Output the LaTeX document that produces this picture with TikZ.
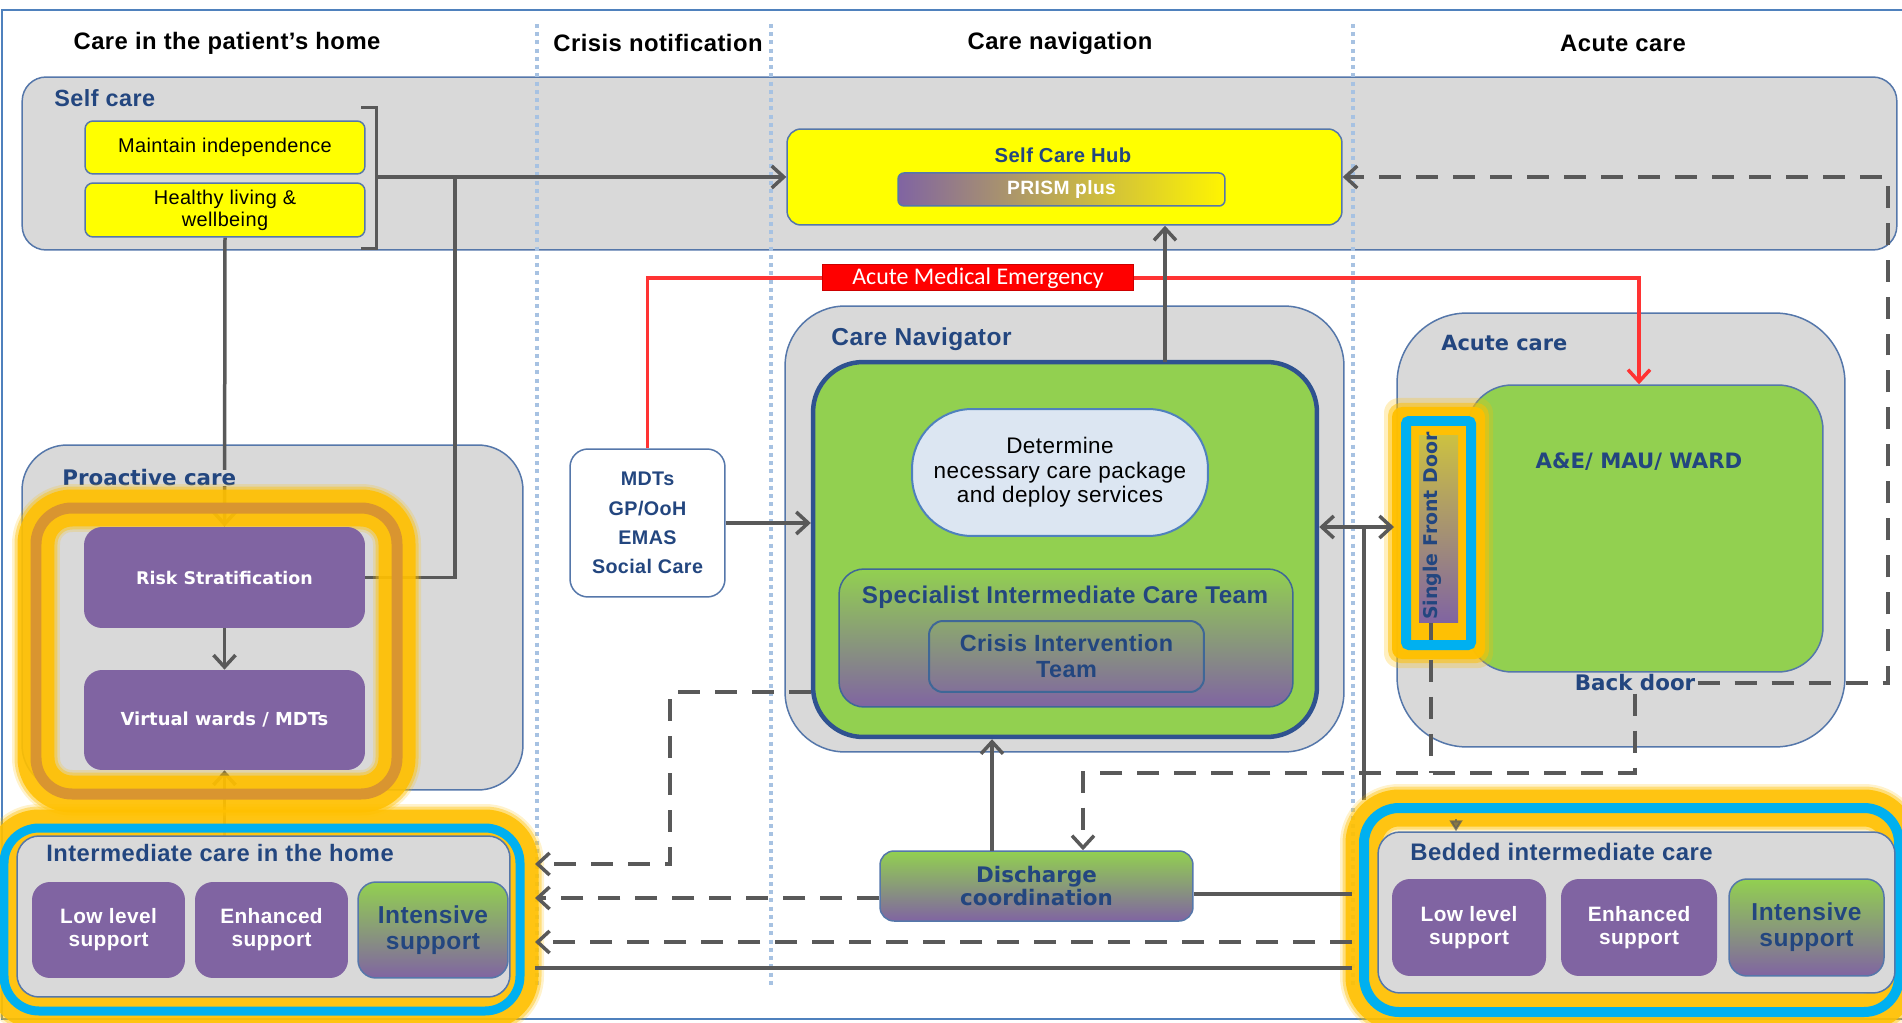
\documentclass[tikz,border=0pt]{standalone}
\usepackage{fontspec}
\setmainfont{Liberation Sans}[LetterSpace=2]
\newfontfamily\vfont{DejaVu Sans}
\newfontfamily\cfont{Carlito}
\usetikzlibrary{arrows.meta}
\pgfdeclarelayer{back}
\pgfdeclarelayer{glow}
\pgfdeclarelayer{front}
\pgfsetlayers{back,main,glow,front}
\definecolor{bandgray}{HTML}{D9D9D9}
\definecolor{bordc}{HTML}{5577AA}
\definecolor{txtblue}{HTML}{23467F}
\definecolor{purp}{HTML}{8064A2}
\definecolor{grn}{HTML}{92D050}
\definecolor{ylw}{HTML}{FFFF00}
\definecolor{glowY}{HTML}{FFC000}
\definecolor{orng}{HTML}{D99530}
\definecolor{cyanr}{HTML}{00B0F0}
\definecolor{connc}{HTML}{595959}
\definecolor{redl}{HTML}{FF3333}
\definecolor{redf}{HTML}{FF0000}
\definecolor{framec}{HTML}{4F81BD}
\definecolor{dotc}{HTML}{A7C2E2}
\definecolor{lblue}{HTML}{DCE6F2}
\definecolor{navb}{HTML}{2F5290}
\newcommand\fz[2]{\fontsize{\dimexpr #1pt*567/1000\relax}{\dimexpr #2pt*567/1000\relax}\selectfont}
\newcommand\glowring[5]{%
  \draw[glowY, line width=0.96cm, opacity=0.2, rounded corners=#3] (#1) rectangle (#2);
  \draw[glowY, line width=0.86cm, opacity=0.4, rounded corners=#3] (#1) rectangle (#2);
  \draw[glowY, line width=0.74cm, opacity=0.85, rounded corners=#3] (#1) rectangle (#2);
  \draw[#4, line width=#5, rounded corners=#3] (#1) rectangle (#2);
}
\begin{document}
\begin{tikzpicture}[x=0.02cm, y=-0.02cm,
  box/.style={draw=bordc, line width=0.03cm, inner sep=0pt, align=center},
  conn/.style={draw=connc, line width=0.07cm},
  arr/.style={-{Straight Barb[length=0.24cm,width=0.44cm]}},
  arrs/.style={{Straight Barb[length=0.24cm,width=0.44cm]}-{Straight Barb[length=0.24cm,width=0.44cm]}},
  dsh/.style={conn, dash pattern=on 0.44cm off 0.3cm},
  hdr/.style={font=\fz{23.9}{28}\bfseries, inner sep=0pt},
  lbl/.style={text=txtblue, inner sep=0pt},
  subbox/.style={fill=purp, rounded corners=0.36cm, minimum height=1.92cm, inner sep=0pt, align=center, font=\fz{20.9}{23}\bfseries, text=white},
  intbox/.style={draw=bordc, line width=0.03cm, top color=grn, bottom color=purp, rounded corners=0.36cm, minimum height=1.92cm, inner sep=0pt, align=center, font=\fz{24.6}{26}\bfseries, text=txtblue}
]
\useasboundingbox (0,0) rectangle (1902,1023);

% ---------- background ----------
\begin{pgfonlayer}{back}
\draw[framec, line width=0.04cm] (1902,10) -- (2,10) -- (2,1019) -- (1902,1019);
\node[box, fill=bandgray, rounded corners=0.48cm, minimum width=37.5cm, minimum height=3.46cm] (selfband) at (959.5,163.5) {};
\foreach \xx in {537,771,1353}
  \draw[dotc, line width=0.08cm, dash pattern=on 0.08cm off 0.085cm] (\xx,24) -- (\xx,988);
\node[hdr] (h1) at (227,43) {Care in the patient’s home};
\node[hdr] (h2) at (658,43) {Crisis notification};
\node[hdr] (h3) at (1060,43) {Care navigation};
\node[hdr] (h4) at (1623,43) {Acute care};
\end{pgfonlayer}

% ---------- main boxes ----------
\node[lbl, anchor=west, font=\fz{23.5}{26}\bfseries] (sclbl) at (54,98) {Self care};
\node[box, fill=ylw, rounded corners=0.16cm, minimum width=5.6cm, minimum height=1.06cm, font=\fz{20}{22}] (maint) at (225,147.5) {Maintain independence};
\node[box, fill=ylw, rounded corners=0.16cm, minimum width=5.6cm, minimum height=1.08cm, font=\fz{20}{22}] (healthy) at (225,210) {Healthy living \&\\wellbeing};
\draw[connc, line width=0.06cm] (361,108) -- (376,108) -- (376,249) -- (361,249);
\coordinate (brk) at (376,177);
\coordinate (j1) at (455,177);

\node[box, fill=ylw, rounded corners=0.28cm, minimum width=11.1cm, minimum height=1.92cm] (hub) at (1064.5,177) {};
\node[lbl, font=\fz{20.3}{22}\bfseries] (hublbl) at (1063,155) {Self Care Hub};
\node[box, left color=purp, right color=ylw!92!orange, rounded corners=0.12cm, minimum width=6.54cm, minimum height=0.66cm, font=\fz{19.3}{20}\bfseries, text=white] (prism) at (1061.5,189.5) {PRISM plus};

\node[box, fill=white, rounded corners=0.36cm, minimum width=3.1cm, minimum height=2.96cm, font=\fz{19.8}{29.3}\bfseries, text=txtblue] (mdt) at (647.5,523) {MDTs\\GP/OoH\\EMAS\\Social Care};

\node[box, fill=bandgray, rounded corners=1.2cm, minimum width=11.18cm, minimum height=8.92cm] (nav) at (1064.5,529) {};
\node[lbl, anchor=west, font=\fz{24.6}{26}\bfseries] (navlbl) at (831,339) {Care Navigator};
\node[draw=navb, line width=0.09cm, fill=grn, rounded corners=1.0cm, minimum width=10.08cm, minimum height=7.5cm, inner sep=0pt] (green) at (1065,549.5) {};
\node[draw=framec, line width=0.04cm, fill=lblue, rounded corners=1.2cm, minimum width=5.92cm, minimum height=2.54cm, inner sep=0pt, align=center, font=\fz{22.6}{24.5}] (det) at (1060,472.5) {Determine\\necessary care package\\and deploy services};
\node[draw=framec!80!black, line width=0.03cm, top color=grn, bottom color=purp, rounded corners=0.5cm, minimum width=9.08cm, minimum height=2.76cm, inner sep=0pt] (sict) at (1066,638) {};
\node[lbl, font=\fz{24.3}{26}\bfseries] (sictlbl) at (1065,597) {Specialist Intermediate Care Team};
\node[draw=framec!80!black, line width=0.04cm, rounded corners=0.28cm, minimum width=5.5cm, minimum height=1.42cm, inner sep=0pt, align=center, font=\fz{23.5}{26}\bfseries, text=txtblue] (cit) at (1066.5,656.5) {Crisis Intervention\\Team};

\node[box, fill=bandgray, rounded corners=1.4cm, minimum width=8.96cm, minimum height=8.68cm] (acute) at (1621,530) {};
\node[lbl, anchor=west, font=\vfont\bfseries\fz{21}{24}] (aclbl) at (1441,343) {Acute care};
\node[box, fill=grn, rounded corners=0.9cm, minimum width=7.12cm, minimum height=5.74cm] (ae) at (1645,528.5) {};
\node[lbl, font=\vfont\bfseries\fz{21.3}{24}] (aelbl) at (1639,462) {A\&E/ MAU/ WARD};

\node[box, top color=grn, bottom color=purp, rounded corners=0.28cm, minimum width=6.26cm, minimum height=1.4cm, font=\vfont\bfseries\fz{21.5}{23}, text=txtblue] (disch) at (1036.5,886) {Discharge\\coordination};

\node[box, fill=bandgray, rounded corners=0.9cm, minimum width=10.02cm, minimum height=6.9cm] (proact) at (272.5,617.5) {};

% ---------- glows ----------
\begin{pgfonlayer}{glow}
\glowring{36,508}{397,794}{0.72cm}{orng}{0.22cm}
\glowring{4,828}{520,1011}{0.7cm}{cyanr}{0.18cm}
\glowring{1364,808}{1899,1012}{0.7cm}{cyanr}{0.2cm}
\fill[glowY, opacity=0.25, rounded corners=0.3cm] (1384,398) rectangle (1493,668);
\fill[glowY, opacity=0.5, rounded corners=0.25cm] (1388,403) rectangle (1489,663);
\fill[glowY, opacity=0.95, rounded corners=0.2cm] (1392,407) rectangle (1485,659);
\end{pgfonlayer}

% ---------- front boxes ----------
\begin{pgfonlayer}{front}
\node[fill=purp, rounded corners=0.36cm, minimum width=5.62cm, minimum height=2.02cm, inner sep=0pt, font=\vfont\bfseries\fz{17.5}{20}, text=white] (risk) at (224.5,577.5) {Risk Stratification};
\node[fill=purp, rounded corners=0.36cm, minimum width=5.62cm, minimum height=2.0cm, inner sep=0pt, font=\vfont\bfseries\fz{18}{20}, text=white] (virt) at (224.5,720) {Virtual wards / MDTs};

\node[box, fill=bandgray, rounded corners=0.44cm, minimum width=9.86cm, minimum height=3.22cm] (ich) at (263.5,916.5) {};
\node[lbl, anchor=west, font=\fz{23.8}{26}\bfseries] (ichlbl) at (46,853) {Intermediate care in the home};
\node[subbox, minimum width=3.06cm] (ich1) at (108.5,930) {Low level\\support};
\node[subbox, minimum width=3.06cm] (ich2) at (271.5,930) {Enhanced\\support};
\node[intbox, minimum width=3.0cm] (ich3) at (433,930) {Intensive\\support};

\node[box, fill=bandgray, rounded corners=0.44cm, minimum width=10.34cm, minimum height=3.22cm] (bic) at (1636.5,912.5) {};
\node[lbl, anchor=west, font=\fz{24}{26}\bfseries] (biclbl) at (1410,852) {Bedded intermediate care};
\node[subbox, minimum width=3.08cm, minimum height=1.94cm] (bic1) at (1469,927.5) {Low level\\support};
\node[subbox, minimum width=3.12cm, minimum height=1.94cm] (bic2) at (1639,927.5) {Enhanced\\support};
\node[intbox, minimum width=3.1cm, minimum height=1.94cm] (bic3) at (1806.5,927.5) {Intensive\\support};

\node[top color=ylw!60!purp, bottom color=purp, minimum width=0.78cm, minimum height=3.76cm, inner sep=0pt] (sfdbar) at (1438.5,529) {};
\node[fill=bandgray, inner sep=0.04cm, font=\vfont\bfseries\fz{21.5}{24}, text=txtblue] (bdoor) at (1635,683) {Back door};
\node[fill=redf, draw=red!80!black, line width=0.02cm, minimum width=6.24cm, minimum height=0.52cm, inner sep=0pt, font=\cfont\fz{24}{26}, text=white] (redlbl) at (978,278) {Acute Medical Emergency};
\end{pgfonlayer}

% ---------- coordinates ----------
\coordinate (rc) at (1888,177);
\coordinate (gt) at (1165,362);
\coordinate (aeT) at ([xshift=-0.12cm]ae.north);
\coordinate (j2) at (1364,527);
\coordinate (j2b) at (1364,800);
\coordinate (sfdL) at (1394,527);
\coordinate (d1) at (992,851);
\coordinate (dd) at (1083,773);
\coordinate (sfdb) at (1431,623);
\coordinate (c692) at (670,692);
\coordinate (ichR1) at (535,864);
\coordinate (ichR2) at (535,898);
\coordinate (ichR3) at (535,942);
\coordinate (ichR4) at (535,968);
\coordinate (bicL1) at (1352,894);
\coordinate (bicL2) at (1352,942);
\coordinate (bicL3) at (1352,968);
\coordinate (vb) at (224.5,836);
\coordinate (bt) at (1456,819);

% ---------- connectors under glows ----------
\draw[conn, arr] (brk) -- (hub.west);
\draw[conn] (j1) |- (risk.east);
\draw[conn, arr] (healthy.south) -- (risk.north);
\draw[conn, arr] (vb) -- (virt.south);
\draw[redl, line width=0.07cm] (mdt.north) |- (redlbl.west);
\draw[redl, line width=0.07cm, arr] (redlbl.east) -| (aeT);
\draw[conn, arr] (gt) -- (gt |- hub.south);
\draw[conn, arr] (mdt.east) -- (mdt.east -| green.west);
\draw[conn] (j2) -- (j2b);
\draw[conn, arr] (d1) -- (d1 |- green.south);
\draw[dsh, arr] (bdoor.east) -| (rc) -- (hub.east);
\draw[dsh, arr] (bdoor.south) |- (dd) -- (dd |- disch.north);
\node[fill=bandgray, inner sep=0.04cm, anchor=west, lbl, font=\vfont\bfseries\fz{21.5}{24}] (prolbl) at (62,478) {Proactive care};

% ---------- connectors on top ----------
\begin{pgfonlayer}{front}
\draw[conn, arr] (risk.south) -- (virt.north);
\draw[conn, arrs] (green.east |- sfdL) -- (sfdL);
\draw[dsh] (sfdb) -- (sfdb |- dd);
\draw[cyanr, line width=0.2cm, rounded corners=0.06cm] (1406,421) rectangle (1471,645);
\node[rotate=90, font=\vfont\bfseries\fz{19}{20}, text=txtblue, inner sep=0pt] (sfdtxt) at (1432,526) {Single Front Door};
\draw[dsh, arr] (green.west |- c692) -- (c692) |- (ichR1);
\draw[dsh, arr] (disch.west |- ichR2) -- (ichR2);
\draw[conn] (disch.east |- bicL1) -- (bicL1);
\draw[dsh, arr] (bicL2) -- (ichR3);
\draw[conn] (ichR4) -- (bicL3);
\draw[connc, line width=0.04cm, opacity=0.7, -{Triangle[length=0.22cm,width=0.26cm]}] (bt) -- (bt |- bic.north);
\end{pgfonlayer}
\end{tikzpicture}
\end{document}
